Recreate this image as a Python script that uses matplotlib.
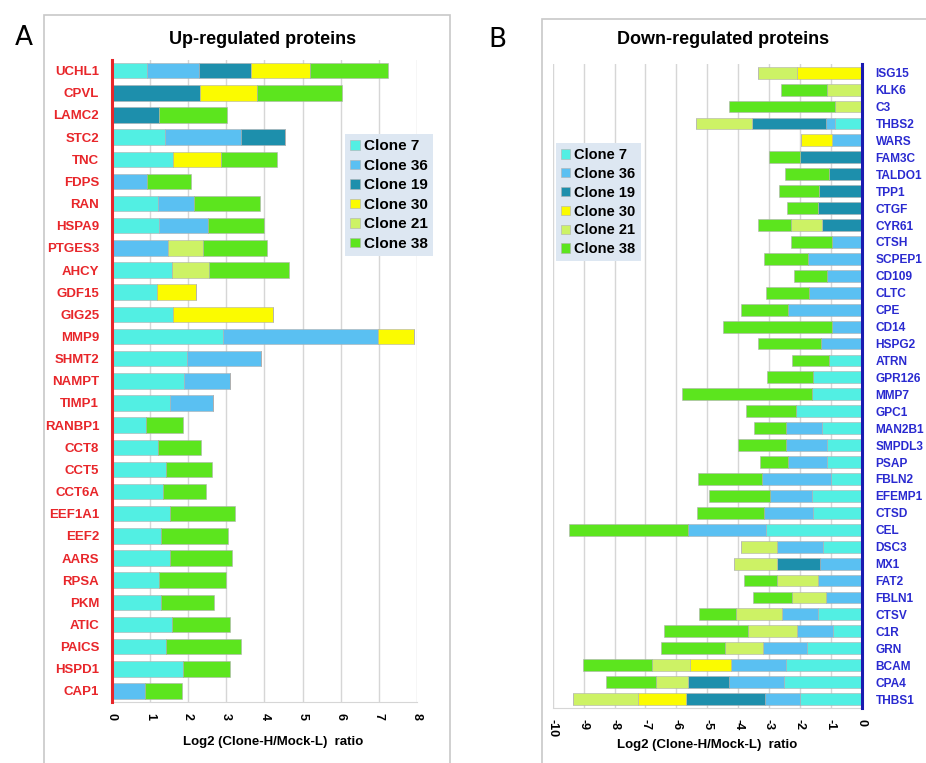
import matplotlib
matplotlib.use("Agg")
import matplotlib.pyplot as plt
from matplotlib.patches import Rectangle
import numpy as np

plt.rcParams['font.family'] = ['Liberation Sans', 'DejaVu Sans']
plt.rcParams['axes.unicode_minus'] = False

clones = ["Clone 7", "Clone 36", "Clone 19", "Clone 30", "Clone 21", "Clone 38"]
colors = ["#52efe3", "#5ac0f2", "#1d8fac", "#fbfb00", "#cdf265", "#5ce51e"]

# ---------------- Panel A: up-regulated ----------------
genes_up = ["UCHL1", "CPVL", "LAMC2", "STC2", "TNC", "FDPS", "RAN", "HSPA9", "PTGES3",
            "AHCY", "GDF15", "GIG25", "MMP9", "SHMT2", "NAMPT", "TIMP1", "RANBP1", "CCT8",
            "CCT5", "CCT6A", "EEF1A1", "EEF2", "AARS", "RPSA", "PKM", "ATIC", "PAICS",
            "HSPD1", "CAP1"]
up_c7 = [0.93, 0, 0, 1.39, 1.60, 0, 1.22, 1.23, 0, 1.57, 1.19, 1.60, 2.91, 1.98, 1.90, 1.52,
         0.89, 1.22, 1.42, 1.34, 1.52, 1.28, 1.52, 1.23, 1.30, 1.58, 1.43, 1.87, 0]
up_c36 = [1.35, 0, 0, 1.99, 0, 0.93, 0.93, 1.30, 1.48, 0, 0, 0, 4.06, 1.93, 1.21, 1.14,
          0, 0, 0, 0, 0, 0, 0, 0, 0, 0, 0, 0, 0.87]
up_c19 = [1.37, 2.32, 1.23, 1.16, 0, 0, 0, 0, 0, 0, 0, 0, 0, 0, 0, 0,
          0, 0, 0, 0, 0, 0, 0, 0, 0, 0, 0, 0, 0]
up_c30 = [1.55, 1.48, 0, 0, 1.27, 0, 0, 0, 0, 0, 1.03, 2.63, 0.94, 0, 0, 0,
          0, 0, 0, 0, 0, 0, 0, 0, 0, 0, 0, 0, 0]
up_c21 = [0, 0, 0, 0, 0, 0, 0, 0, 0.90, 0.99, 0, 0, 0, 0, 0, 0,
          0, 0, 0, 0, 0, 0, 0, 0, 0, 0, 0, 0, 0]
up_c38 = [2.04, 2.23, 1.80, 0, 1.47, 1.16, 1.74, 1.46, 1.68, 2.09, 0, 0, 0, 0, 0, 0,
          0.97, 1.11, 1.22, 1.12, 1.71, 1.76, 1.64, 1.76, 1.38, 1.51, 1.97, 1.23, 0.96]

# ---------------- Panel B: down-regulated ----------------
genes_down = ["ISG15", "KLK6", "C3", "THBS2", "WARS", "FAM3C", "TALDO1", "TPP1", "CTGF",
              "CYR61", "CTSH", "SCPEP1", "CD109", "CLTC", "CPE", "CD14", "HSPG2", "ATRN",
              "GPR126", "MMP7", "GPC1", "MAN2B1", "SMPDL3", "PSAP", "FBLN2", "EFEMP1",
              "CTSD", "CEL", "DSC3", "MX1", "FAT2", "FBLN1", "CTSV", "C1R", "GRN", "BCAM",
              "CPA4", "THBS1"]
dn_c7 = [0, 0, 0, -0.86, 0, 0, 0, 0, 0, 0, 0, 0, 0, 0, 0, 0, 0, -1.06, -1.59, -1.62,
         -2.13, -1.27, -1.11, -1.13, -1.00, -1.60, -1.56, -3.11, -1.26, 0, 0, 0, -1.42,
         -0.92, -1.78, -2.45, -2.51, -2.00]
dn_c36 = [0, 0, 0, -0.29, -0.95, 0, 0, 0, 0, 0, -0.95, -1.75, -1.11, -1.69, -2.37, -0.95,
          -1.33, 0, 0, 0, 0, -1.18, -1.34, -1.24, -2.23, -1.37, -1.59, -2.50, -1.49, -1.35,
          -1.40, -1.17, -1.17, -1.17, -1.43, -1.79, -1.78, -1.13]
dn_c19 = [0, 0, 0, -2.41, 0, -2.00, -1.06, -1.38, -1.40, -1.29, 0, 0, 0, 0, 0, 0, 0, 0,
          0, 0, 0, 0, 0, 0, 0, 0, 0, 0, 0, -1.40, 0, 0, 0, 0, 0, 0, -1.34, -2.57]
dn_c30 = [-2.10, 0, 0, 0, -1.01, 0, 0, 0, 0, 0, 0, 0, 0, 0, 0, 0, 0, 0, 0, 0, 0, 0, 0,
          0, 0, 0, 0, 0, 0, 0, 0, 0, 0, 0, 0, -1.32, 0, -1.53]
dn_c21 = [-1.24, -1.11, -0.86, -1.81, 0, 0, 0, 0, 0, -1.00, 0, 0, 0, 0, 0, 0, 0, 0, 0, 0,
          0, 0, 0, 0, 0, 0, 0, 0, -1.15, -1.37, -1.35, -1.08, -1.48, -1.59, -1.23, -1.24,
          -1.02, -2.10]
dn_c38 = [0, -1.50, -3.43, 0, 0, -0.99, -1.42, -1.29, -1.02, -1.07, -1.35, -1.40, -1.07,
          -1.41, -1.54, -3.55, -2.04, -1.18, -1.49, -4.19, -1.62, -1.04, -1.54, -0.92,
          -2.08, -1.96, -2.19, -3.85, 0, 0, -1.05, -1.26, -1.19, -2.72, -2.06, -2.21,
          -1.62, 0]

W, H = 926, 763
fig = plt.figure(figsize=(W / 100, H / 100), dpi=100)


def fx(px):
    return px / W


def fy(py):
    return 1 - py / H


# panel frames
fig.patches.append(Rectangle((fx(44), fy(775)), fx(450) - fx(44), fy(15) - fy(775),
                             transform=fig.transFigure, fill=False, edgecolor="#c8c8c8", lw=1.2))
fig.patches.append(Rectangle((fx(542), fy(775)), fx(940) - fx(542), fy(19) - fy(775),
                             transform=fig.transFigure, fill=False, edgecolor="#c8c8c8", lw=1.2))

fig.text(fx(24), fy(38), "A", fontsize=19, ha="center", va="center", family="DejaVu Sans")
fig.text(fx(497), fy(40), "B", fontsize=19, ha="center", va="center", family="DejaVu Sans")
fig.text(fx(263), fy(40), "Up-regulated proteins", fontsize=13, fontweight="bold",
         ha="center", va="center")
fig.text(fx(723), fy(40), "Down-regulated proteins", fontsize=13, fontweight="bold",
         ha="center", va="center")
fig.text(fx(273), fy(742), "Log2 (Clone-H/Mock-L)  ratio", fontsize=9.5, fontweight="bold",
         ha="center", va="center")
fig.text(fx(707), fy(745), "Log2 (Clone-H/Mock-L)  ratio", fontsize=9.5, fontweight="bold",
         ha="center", va="center")


def draw(ax, genes, series, xlim, ticks, labcolor, spine_side, spine_color):
    y = np.arange(len(genes))
    left = np.zeros(len(genes))
    for vals, c, name in zip(series, colors, clones):
        vals = np.array(vals, dtype=float)
        ax.barh(y, vals, left=left, height=0.7, color=c, edgecolor="#b0b0b0",
                linewidth=0.4, label=name, zorder=3)
        left = left + vals
    ax.set_ylim(len(genes) - 0.5, -0.5)
    ax.set_xlim(*xlim)
    ax.set_xticks(ticks)
    ax.set_xticklabels([str(t) for t in ticks], rotation=-90, fontsize=9, fontweight="bold")
    ax.set_yticks(y)
    ax.set_yticklabels(genes, color=labcolor, fontweight="bold")
    ax.grid(axis="x", color="#d6d6d6", lw=1, zorder=0)
    ax.tick_params(axis="both", length=0)
    ax.tick_params(axis="x", pad=8)
    for s in ax.spines.values():
        s.set_visible(False)
    ax.spines["bottom"].set_visible(True)
    ax.spines["bottom"].set_color("#d6d6d6")
    ax.spines[spine_side].set_visible(True)
    ax.spines[spine_side].set_color(spine_color)
    ax.spines[spine_side].set_linewidth(2.2)
    ax.spines[spine_side].set_zorder(5)


axA = fig.add_axes([fx(111.7), fy(702), fx(417) - fx(111.7), fy(59.6) - fy(702)])
draw(axA, genes_up, [up_c7, up_c36, up_c19, up_c30, up_c21, up_c38], (0, 8),
     list(range(0, 9)), "#e8262a", "left", "#e8262a")
for lab in axA.get_yticklabels():
    lab.set_fontsize(9.5)
axA.tick_params(axis="y", pad=9)

axB = fig.add_axes([fx(552.7), fy(707.5), fx(861.7) - fx(552.7), fy(64.2) - fy(707.5)])
draw(axB, genes_down, [dn_c7, dn_c36, dn_c19, dn_c30, dn_c21, dn_c38], (-10, 0),
     list(range(-10, 1)), "#2a2ad0", "right", "#1a1ab0")
axB.yaxis.tick_right()
for lab in axB.get_yticklabels():
    lab.set_fontsize(8.6)
axB.tick_params(axis="y", pad=10)

for ax, anchor, fs, ls in ((axA, (345, 134), 11, 0.36), (axB, (556, 143), 10.5, 0.33)):
    leg = ax.legend(loc="upper left", bbox_to_anchor=(fx(anchor[0]), fy(anchor[1])),
                    bbox_transform=fig.transFigure, frameon=True, fancybox=False,
                    facecolor="#dde7f2", edgecolor="none", framealpha=1,
                    prop={"weight": "bold", "size": fs}, handlelength=0.6, handleheight=0.6,
                    handletextpad=0.3, labelspacing=ls, borderpad=0.35, borderaxespad=0)
    leg.set_zorder(10)

fig.savefig("out.png", dpi=100)
